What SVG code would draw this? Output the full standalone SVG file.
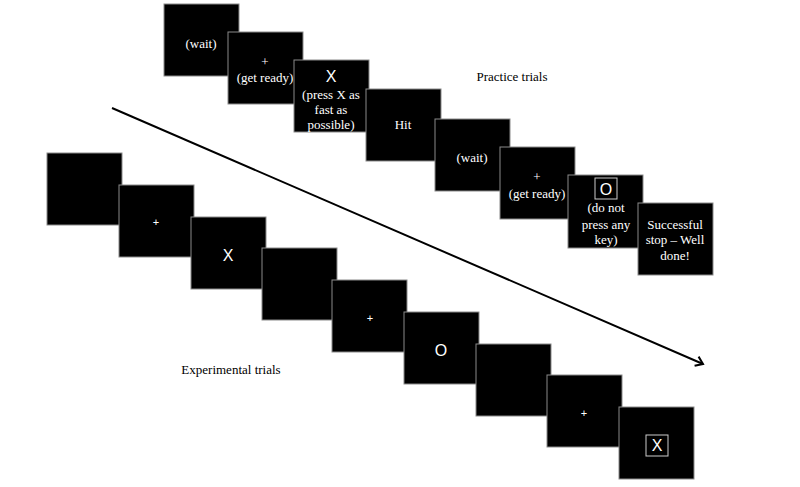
<svg xmlns="http://www.w3.org/2000/svg" width="800" height="487" viewBox="0 0 800 487">
<defs>
<style>
.sq{fill:#000;stroke:#8a8a8a;stroke-width:1}
.t{font-family:"Liberation Serif","Times New Roman",serif;font-size:13px;fill:#fff;text-anchor:middle}
.s{font-family:"Liberation Sans",Arial,sans-serif;fill:#fff;text-anchor:middle}
.lbl{font-family:"Liberation Serif","Times New Roman",serif;font-size:13px;fill:#000;text-anchor:middle}
.box{fill:none;stroke:#ccc;stroke-width:1}
</style>
<marker id="ah" markerWidth="12" markerHeight="12" refX="9" refY="6" orient="auto" markerUnits="userSpaceOnUse">
<path d="M2,1 L9,6 L2,11" fill="none" stroke="#000" stroke-width="2"/>
</marker>
</defs>
<rect width="800" height="487" fill="#fff"/>
<g id="connectors">
<line x1="112" y1="108" x2="703" y2="364" stroke="#000" stroke-width="2" marker-end="url(#ah)"/>
</g>
<g id="p1"><rect class="sq" x="164" y="4" width="75" height="72"/><text class="t" x="201" y="48">(wait)</text></g>
<g id="p2"><rect class="sq" x="228" y="32" width="75" height="72"/><text class="t" x="265" y="66">+</text><text class="t" x="265" y="82">(get ready)</text></g>
<g id="p3"><rect class="sq" x="294" y="60" width="75" height="72"/><text class="s" x="331" y="82" font-size="16">X</text><text class="t" x="331" y="99">(press X as</text><text class="t" x="331" y="114">fast as</text><text class="t" x="331" y="129">possible)</text></g>
<g id="p4"><rect class="sq" x="366" y="89" width="75" height="72"/><text class="t" x="403" y="129">Hit</text></g>
<g id="p5"><rect class="sq" x="435" y="119" width="75" height="72"/><text class="t" x="472" y="162">(wait)</text></g>
<g id="p6"><rect class="sq" x="500" y="147" width="75" height="72"/><text class="t" x="537" y="181">+</text><text class="t" x="537" y="198">(get ready)</text></g>
<g id="p7"><rect class="sq" x="568" y="175" width="75" height="73"/><rect class="box" x="595" y="178" width="22" height="21"/><text class="s" x="606" y="195" font-size="16">O</text><text class="t" x="606" y="212">(do not</text><text class="t" x="606" y="229">press any</text><text class="t" x="606" y="244">key)</text></g>
<g id="p8"><rect class="sq" x="638" y="203" width="75" height="72"/><text class="t" x="675" y="229">Successful</text><text class="t" x="675" y="244">stop – Well</text><text class="t" x="675" y="260">done!</text></g>
<g id="e1"><rect class="sq" x="47" y="153" width="75" height="72"/></g>
<g id="e2"><rect class="sq" x="119" y="185" width="75" height="72"/><text class="s" x="156" y="226" font-size="11">+</text></g>
<g id="e3"><rect class="sq" x="191" y="217" width="75" height="72"/><text class="s" x="228" y="261" font-size="16">X</text></g>
<g id="e4"><rect class="sq" x="262" y="248" width="75" height="72"/></g>
<g id="e5"><rect class="sq" x="332" y="280" width="75" height="72"/><text class="s" x="370" y="322" font-size="11">+</text></g>
<g id="e6"><rect class="sq" x="404" y="312" width="75" height="72"/><text class="s" x="441" y="356" font-size="16">O</text></g>
<g id="e7"><rect class="sq" x="476" y="344" width="75" height="72"/></g>
<g id="e8"><rect class="sq" x="547" y="375" width="75" height="72"/><text class="s" x="584" y="417" font-size="11">+</text></g>
<g id="e9"><rect class="sq" x="619" y="407" width="75" height="72"/><rect class="box" x="646" y="435" width="22" height="21"/><text class="s" x="657" y="451" font-size="16">X</text></g>
<text class="lbl" x="512" y="81">Practice trials</text>
<text class="lbl" x="231" y="374" font-size="14">Experimental trials</text>
</svg>
